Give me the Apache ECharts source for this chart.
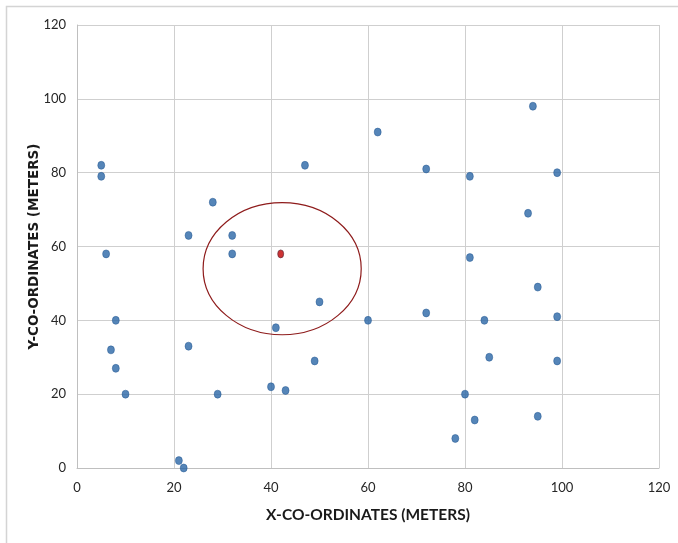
<!DOCTYPE html>
<html>
<head>
<meta charset="utf-8">
<script src="https://cdn.jsdelivr.net/npm/echarts@6/dist/echarts.min.js"></script>
<style>
html,body{margin:0;padding:0;background:#fff;}
#c{width:678px;height:543px;}
</style>
</head>
<body>
<div id="c"></div>
<script>
// Data
const xTicks = [0, 20, 40, 60, 80, 100, 120];
const yTicks = [0, 20, 40, 60, 80, 100, 120];
const pointsX = [5, 5, 6, 8, 7, 8, 10, 21, 22, 23, 23, 28, 32, 32, 29, 40, 43, 41, 47, 49, 50, 60, 62, 72, 72, 78, 80, 81, 81, 82, 84, 85, 93, 94, 95, 95, 99, 99, 99];
const pointsY = [82, 79, 58, 40, 32, 27, 20, 2, 0, 63, 33, 72, 63, 58, 20, 22, 21, 38, 82, 29, 45, 40, 91, 81, 42, 8, 20, 79, 57, 13, 40, 30, 69, 98, 49, 14, 80, 41, 29];
const centerX = [42];
const centerY = [58];
// ellipse annotation: center x, center y, radius x, radius y (data units)
const ellipseX = [42.3];
const ellipseY = [54];
const ellipseRX = [16.3];
const ellipseRY = [17.9];

const xName = 'X-CO-ORDINATES (METERS)';
const yName = 'Y-CO-ORDINATES (METERS)';

const chart = echarts.init(document.getElementById('c'));
const gridColor = '#cfcfcf';
const labelFont = 'Lato, "Open Sans", sans-serif';

chart.setOption({
  animation: false,
  backgroundColor: '#fff',
  graphic: [{
    type: 'rect',
    shape: {x: 6.5, y: 6.5, width: 720, height: 620},
    style: {fill: 'none', stroke: '#d4d4d4', lineWidth: 1.5},
    silent: true
  }],
  grid: {left: 77, right: 19, top: 25, bottom: 75, containLabel: false},
  xAxis: {
    type: 'value', min: xTicks[0], max: xTicks[xTicks.length - 1], interval: 20,
    name: xName, nameLocation: 'middle', nameGap: 39, nameMoveOverlap: false,
    nameTextStyle: {fontFamily: labelFont, fontWeight: 'bold', fontSize: 15.5, color: '#1a1a1a'},
    axisLine: {show: true, lineStyle: {color: '#bfbfbf', width: 1}},
    axisTick: {show: false},
    axisLabel: {fontFamily: labelFont, fontSize: 13, color: '#262626', margin: 13},
    splitLine: {show: true, lineStyle: {color: gridColor, width: 1}}
  },
  yAxis: {
    type: 'value', min: yTicks[0], max: yTicks[yTicks.length - 1], interval: 20,
    name: yName, nameLocation: 'middle', nameGap: 36, nameRotate: 90, nameMoveOverlap: false,
    nameTextStyle: {fontFamily: '"DejaVu Sans", Verdana, sans-serif', fontWeight: 'bold', fontSize: 13.5, color: '#1a1a1a'},
    axisLine: {show: true, lineStyle: {color: '#bfbfbf', width: 1}},
    axisTick: {show: false},
    axisLabel: {fontFamily: labelFont, fontSize: 13, color: '#262626', margin: 11},
    splitLine: {show: true, lineStyle: {color: gridColor, width: 1}}
  },
  series: [
    {
      type: 'custom',
      silent: true,
      data: ellipseX.map((v, i) => [v, ellipseY[i], ellipseRX[i], ellipseRY[i]]),
      renderItem: function (params, api) {
        const c = api.coord([api.value(0), api.value(1)]);
        const s = api.size([api.value(2), api.value(3)]);
        return {
          type: 'ellipse',
          shape: {cx: c[0], cy: c[1], rx: s[0], ry: s[1]},
          style: {fill: 'none', stroke: '#8e1b1b', lineWidth: 1.2}
        };
      },
      z: 1
    },
    {
      type: 'scatter',
      data: pointsX.map((v, i) => [v, pointsY[i]]),
      symbol: 'circle',
      symbolSize: [7, 8],
      itemStyle: {color: '#2a66a6', borderColor: '#1f5590', borderWidth: 0.6},
      z: 3
    },
    {
      type: 'scatter',
      data: centerX.map((v, i) => [v, centerY[i]]),
      symbol: 'circle',
      symbolSize: [6, 8],
      itemStyle: {color: '#c00000', borderColor: '#5a2a3a', borderWidth: 0.8},
      z: 4
    }
  ]
});
</script>
</body>
</html>
